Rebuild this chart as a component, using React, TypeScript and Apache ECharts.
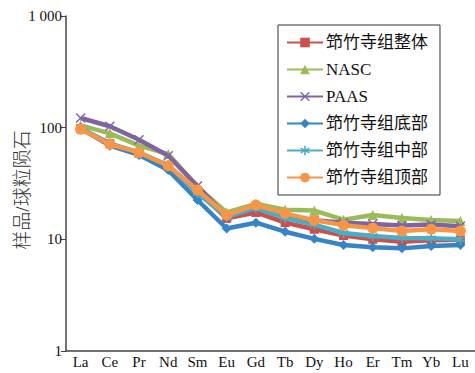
import React, { useEffect, useRef } from "react";
import * as echarts from "echarts";

const categories = ["La", "Ce", "Pr", "Nd", "Sm", "Eu", "Gd", "Tb", "Dy", "Ho", "Er", "Tm", "Yb", "Lu"];
const yTicks = [1, 10, 100, 1000];
const yAxisTitle = "样品/球粒陨石";

const wholeValues = [98, 72, 59, 45, 27, 15.4, 17.4, 14.1, 12.3, 10.8, 10.0, 9.5, 9.8, 9.9];
const nascValues = [105, 89, 69, 58, 29.5, 17.4, 20.8, 18.4, 18.1, 15.0, 16.5, 15.5, 14.9, 14.6];
const paasValues = [122, 103, 78, 56, 30, 16, 19, 16.4, 14.8, 14.1, 13.7, 13.3, 13.6, 13.1];
const bottomValues = [98, 69, 57, 41.7, 22.5, 12.5, 14.1, 11.7, 10.1, 8.9, 8.5, 8.3, 8.7, 8.9];
const middleValues = [99, 72, 60, 46, 26, 15.9, 19, 15.5, 13.5, 11.4, 10.7, 10.3, 10.2, 10.0];
const topValues = [97, 71, 60, 45.6, 27.6, 16.5, 20.3, 17.1, 14.8, 13.4, 12.6, 11.9, 12.3, 11.9];

const seriesNames = ["笻竹寺组整体", "NASC", "PAAS", "笻竹寺组底部", "笻竹寺组中部", "笻竹寺组顶部"];
const seriesColors = ["#C9504B", "#9BBB59", "#8064A2", "#3585C6", "#4BACC6", "#F79646"];

const xSymbol = "path://M1,0L5,4L9,0L10,1L6,5L10,9L9,10L5,6L1,10L0,9L4,5L0,1Z";
const starSymbol =
  "path://M4.3,0H5.7V3.3L8.6,1.6L9.3,2.8L6.4,4.5L9.3,6.2L8.6,7.4L5.7,5.7V9H4.3V5.7L1.4,7.4L0.7,6.2L3.6,4.5L0.7,2.8L1.4,1.6L4.3,3.3Z";
const seriesSymbols = ["rect", "triangle", xSymbol, "diamond", starSymbol, "circle"];
const seriesSymbolSizes = [9, 10, 10, 10, 10, 11];

const serif = "'Liberation Serif', 'Times New Roman', 'Noto Sans CJK SC', serif";

export default function App() {
  const ref = useRef<HTMLDivElement>(null);
  useEffect(() => {
    if (!ref.current) return;
    const chart = echarts.init(ref.current, undefined, { renderer: "svg" });
    const data = [wholeValues, nascValues, paasValues, bottomValues, middleValues, topValues];
    chart.setOption({
      animation: false,
      grid: { left: 66, top: 16, right: 0, bottom: 22, containLabel: false },
      graphic: [
        {
          type: "text",
          x: 22,
          y: 190,
          rotation: Math.PI / 2,
          style: {
            text: yAxisTitle,
            fontFamily: serif,
            fontSize: 19,
            fontWeight: 300,
            fill: "#333",
            align: "center",
            verticalAlign: "middle",
          },
        },
      ],
      legend: {
        orient: "vertical",
        left: 278,
        top: 25,
        width: 161,
        padding: [9, 12, 9, 8],
        borderColor: "#333",
        borderWidth: 1,
        itemWidth: 36,
        itemHeight: 12,
        itemGap: 10,
        textStyle: { fontFamily: serif, fontSize: 17, color: "#111", padding: [0, 0, 0, -2] },
        data: seriesNames,
      },
      xAxis: {
        type: "category",
        data: categories,
        boundaryGap: true,
        axisLine: { lineStyle: { color: "#444", width: 1.5 } },
        axisTick: { inside: true, length: 5, lineStyle: { color: "#444" } },
        axisLabel: { fontFamily: serif, fontSize: 15, color: "#111", margin: 3, interval: 0 },
      },
      yAxis: {
        type: "log",
        logBase: 10,
        min: yTicks[0],
        max: yTicks[yTicks.length - 1],
        axisLine: { show: true, lineStyle: { color: "#444", width: 1.5 } },
        axisTick: { show: true, inside: false, length: 5, lineStyle: { color: "#444" } },
        minorTick: { show: false },
        splitLine: { show: false },
        axisLabel: {
          fontFamily: serif,
          fontSize: 15,
          color: "#111",
          margin: 4,
          formatter: (v: number) => (v >= 1000 ? String(v).replace(/(\d)(?=(\d{3})+$)/g, "$1 ") : String(v)),
        },
      },
      series: seriesNames.map((name, i) => ({
        name,
        type: "line",
        data: data[i],
        symbol: seriesSymbols[i],
        symbolSize: seriesSymbolSizes[i],
        color: seriesColors[i],
        lineStyle: { width: 4.5, color: seriesColors[i] },
        itemStyle: { color: seriesColors[i] },
        z: i === 5 ? 8 : 2 + i,
      })),
    });
    return () => chart.dispose();
  }, []);
  return (
    <div style={{ position: "absolute", left: 0, top: 0 }}>
      <div ref={ref} style={{ width: 475, height: 373 }} />
    </div>
  );
}
